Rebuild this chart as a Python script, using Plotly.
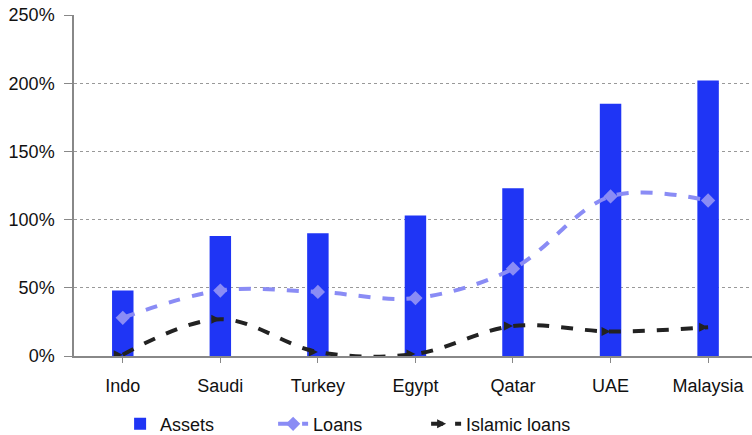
import plotly.graph_objects as go

categories = ["Indo", "Saudi", "Turkey", "Egypt", "Qatar", "UAE", "Malaysia"]
assets = [48, 88, 90, 103, 123, 185, 202]
loans = [28, 48, 47, 42.5, 64, 117, 114]
islamic_loans = [1, 27, 3, 1.5, 22, 18, 21]
y_ticks = [0, 50, 100, 150, 200, 250]
y_tick_labels = ["0%", "50%", "100%", "150%", "200%", "250%"]

x = list(range(len(categories)))

fig = go.Figure()
fig.add_trace(go.Bar(
    x=x, y=assets, name="Assets", width=0.22,
    marker=dict(color="#1f35f5", line=dict(width=0)),
))
fig.add_trace(go.Scatter(
    x=x, y=loans, name="Loans", mode="lines+markers",
    line=dict(color="#8a8cf5", width=4, dash="dash", shape="spline"),
    marker=dict(symbol="diamond", size=11, color="#8a8cf5"),
))
fig.add_trace(go.Scatter(
    x=x, y=islamic_loans, name="Islamic loans", mode="lines+markers",
    line=dict(color="#222222", width=4, dash="dash", shape="spline"),
    marker=dict(symbol="arrow-right", size=9, color="#222222"),
))

fig.update_layout(
    width=752, height=435,
    margin=dict(l=74, r=0, t=15, b=79),
    plot_bgcolor="white", paper_bgcolor="white",
    font=dict(family="Liberation Sans, Arial, sans-serif", size=18, color="#111111"),
    showlegend=True,
    legend=dict(
        orientation="h", x=0.068, xanchor="left",
        yref="container", y=0.025, yanchor="middle",
        entrywidth=108, entrywidthmode="pixels", font=dict(size=18),
        traceorder="normal",
    ),
    xaxis=dict(
        tickmode="array", tickvals=x, ticktext=categories,
        range=[-0.5, 6.45], showgrid=False, zeroline=False,
        showline=True, linecolor="#888888", linewidth=1.5,
        ticks="outside", tickson="boundaries", ticklen=5, tickcolor="#888888",
        ticklabelstandoff=8,
    ),
    yaxis=dict(
        tickmode="array", tickvals=y_ticks, ticktext=y_tick_labels,
        range=[0, 250], showgrid=True, gridcolor="#999999", griddash="dot",
        gridwidth=1, zeroline=False,
        showline=True, linecolor="#888888", linewidth=1.5,
        ticks="outside", ticklen=8, tickcolor="#888888",
        ticklabelstandoff=6,
    ),
)

fig.write_html("out.html")
